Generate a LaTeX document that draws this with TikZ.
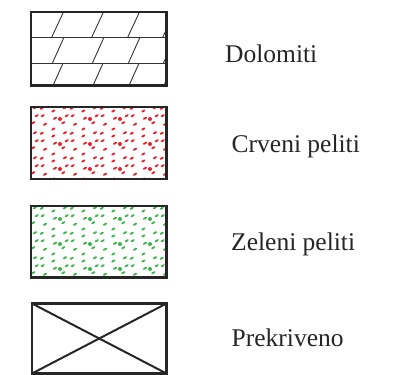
\documentclass[tikz,border=0pt]{standalone}
\usepackage{fontspec}
\setmainfont{Liberation Serif}
\definecolor{dotred}{RGB}{236,30,40}
\definecolor{dotgreen}{RGB}{57,181,74}
\tikzset{
  frame/.style={draw=black!85, line width=2.6pt},
  thin/.style={draw=black!80, line width=0.9pt},
  label/.style={anchor=base west, inner sep=0pt, font=\fontsize{25.5}{29}\selectfont, text=black!85},
}
\newcommand{\dottile}[3]{% color, x, y
  \begin{scope}[shift={(#2,#3)}]
    \fill[#1] (5,4) circle (2.0);
    \foreach \a/\b in {11.7/0.7,17.7/0.7,8.3/7.7,20/9.3,28.3/14,10/17.7,16.7/18.3,28.3/21,0/3.3}{
      \fill[#1, rotate around={30:(\a,\b)}] (\a,\b) ellipse (2.2 and 1.05);
    }
  \end{scope}}
\begin{document}
\begin{tikzpicture}[x=1pt,y=-1pt]
\useasboundingbox (0,0) rectangle (394,375);
% Box 1: Dolomiti
\coordinate (b1a) at (31,12);
\coordinate (b1b) at (166.5,85.5);
\begin{scope}
  \clip (b1a) rectangle (b1b);
  \draw[thin] (31,37.7) -- (166.5,37.7);
  \draw[thin] (31,63.3) -- (166.5,63.3);
  \foreach \x in {51.5,91.5,127.5,162.5}{
    \draw[thin] (\x,37.7) -- ++(12,-25.7);
    \draw[thin] (\x+0.8,63.3) -- ++(11.5,-25.6);
    \draw[thin] (\x+1.5,85.5) -- ++(10,-22.2);
  }
\end{scope}
\draw[frame] (b1a) rectangle (b1b);
\node[label] (t1) at (225,62.3) {Dolomiti};
% Box 2: Crveni peliti
\coordinate (b2a) at (31,107);
\coordinate (b2b) at (166.5,179);
\begin{scope}
  \clip (b2a) rectangle (b2b);
  \foreach \i in {-1,...,4}{
    \foreach \j in {-1,...,3}{
      \dottile{dotred}{55+30*\i}{115+25*\j}
    }
  }
\end{scope}
\draw[frame] (b2a) rectangle (b2b);
\node[label] (t2) at (231.5,152) {Crveni peliti};
% Box 3: Zeleni peliti
\coordinate (b3a) at (31,206);
\coordinate (b3b) at (166.5,277.5);
\begin{scope}
  \clip (b3a) rectangle (b3b);
  \foreach \i in {-1,...,4}{
    \foreach \j in {-1,...,3}{
      \dottile{dotgreen}{55+30*\i}{215+25*\j}
    }
  }
\end{scope}
\draw[frame] (b3a) rectangle (b3b);
\node[label] (t3) at (231,250) {Zeleni peliti};
% Box 4: Prekriveno
\coordinate (b4a) at (32,303.5);
\coordinate (b4b) at (166.5,373.5);
\coordinate (b4c) at (166.5,303.5);
\coordinate (b4d) at (32,373.5);
\draw[frame] (b4a) rectangle (b4b);
\draw[frame, line width=2pt] (b4a) -- (b4b);
\draw[frame, line width=2pt] (b4c) -- (b4d);
\node[label] (t4) at (231.5,346.7) {Prekriveno};
\end{tikzpicture}
\end{document}
